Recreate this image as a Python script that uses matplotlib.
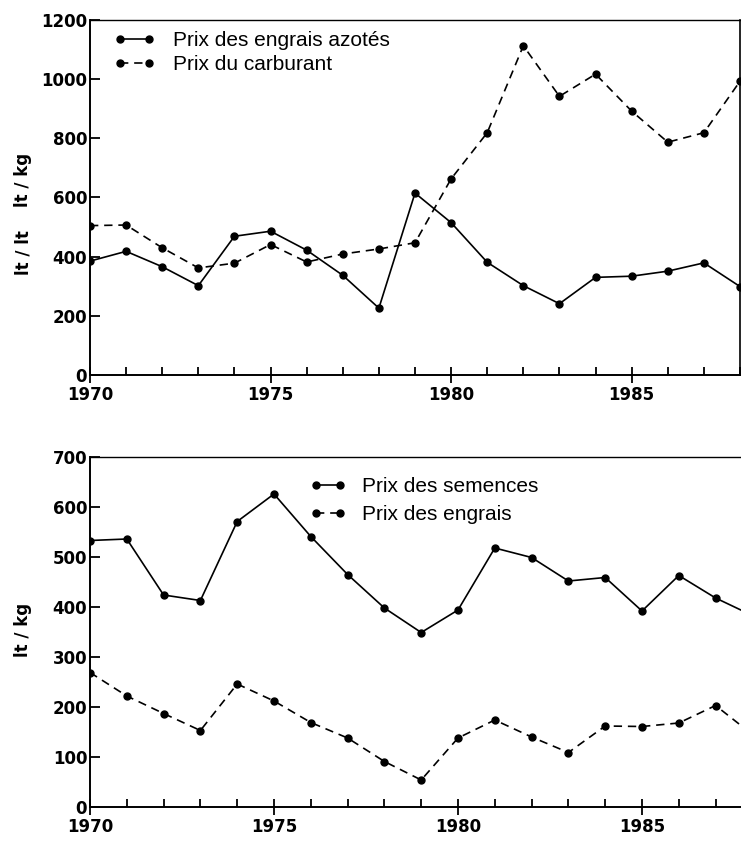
import matplotlib
matplotlib.use("Agg")
import matplotlib.pyplot as plt
from matplotlib.ticker import MultipleLocator

years = list(range(1970, 1989))

# Top panel
engrais_azotes = [385, 418, 366, 302, 469, 486, 422, 337, 226, 615, 515, 381, 302, 241, 330, 334, 351, 379, 299]
carburant = [505, 507, 430, 362, 378, 441, 382, 409, 426, 447, 663, 819, 1113, 942, 1017, 892, 787, 819, 993]

# Bottom panel
semences = [533, 536, 424, 413, 571, 626, 541, 465, 398, 349, 394, 518, 499, 452, 459, 392, 463, 418, 383]
engrais = [269, 222, 187, 153, 246, 212, 169, 138, 91, 54, 138, 174, 140, 109, 162, 161, 168, 203, 145]

top_labels = ["Prix des engrais azotés", "Prix du carburant"]
bottom_labels = ["Prix des semences", "Prix des engrais"]
year_ticks = [1970, 1975, 1980, 1985]

W, H = 741, 841
fig = plt.figure(figsize=(W / 100, H / 100), dpi=100)

tickfont = dict(family="DejaVu Sans", weight="bold", size=12)
legfont = dict(family="Liberation Sans", size=15)

line_kw = dict(color="black", lw=1.2, marker="o", markersize=5, clip_on=True)
dash = (0, (5, 3.5))


def style_axes(ax, ymax, ystep, xmax, right_spine):
    ax.set_xlim(1970, xmax)
    ax.set_ylim(0, ymax)
    ax.set_xticks(year_ticks)
    ax.xaxis.set_minor_locator(MultipleLocator(1))
    ax.yaxis.set_major_locator(MultipleLocator(ystep))
    ax.tick_params(axis="x", which="major", direction="inout", length=12, width=1.3, pad=2)
    ax.tick_params(axis="x", which="minor", direction="in", length=6, width=1.3)
    ax.tick_params(axis="y", which="major", direction="in", length=7, width=1.3, pad=2)
    for lab in ax.get_xticklabels() + ax.get_yticklabels():
        lab.set_fontfamily(tickfont["family"])
        lab.set_fontweight(tickfont["weight"])
        lab.set_fontsize(tickfont["size"])
    for s in ["left", "bottom", "top"]:
        ax.spines[s].set_linewidth(1.4)
    ax.spines["top"].set_linewidth(1.0)
    ax.spines["right"].set_visible(right_spine)
    ax.spines["right"].set_linewidth(1.2)


# ---- Top panel ----
ax1 = fig.add_axes([90 / W, 1 - 375 / H, 650 / W, 355 / H])
ax1.plot(years, engrais_azotes, linestyle="-", label=top_labels[0], **line_kw)
ax1.plot(years, carburant, linestyle=dash, label=top_labels[1], **line_kw)
style_axes(ax1, 1200, 200, 1988, True)
ax1.legend(loc="upper left", bbox_to_anchor=(0.036, 0.968), frameon=False,
           numpoints=2, handlelength=2.0, handletextpad=0.85, labelspacing=0.23,
           prop=legfont, borderaxespad=0, borderpad=0)

fig.text(23 / W, 1 - 180 / H, "lt / kg", rotation=90, ha="center", va="center",
         fontsize=12, fontweight="bold", family="DejaVu Sans")
fig.text(23 / W, 1 - 253 / H, "lt / lt", rotation=90, ha="center", va="center",
         fontsize=12, fontweight="bold", family="DejaVu Sans")

# ---- Bottom panel ----
ax2 = fig.add_axes([90 / W, 1 - 807 / H, 651 / W, 350 / H])
ax2.plot(years, semences, linestyle="-", label=bottom_labels[0], **line_kw)
ax2.plot(years, engrais, linestyle=dash, label=bottom_labels[1], **line_kw)
style_axes(ax2, 700, 100, 1970 + 651 / 36.8, False)
ax2.legend(loc="upper left", bbox_to_anchor=(0.338, 0.942), frameon=False,
           numpoints=2, handlelength=1.75, handletextpad=0.75, labelspacing=0.42,
           prop=legfont, borderaxespad=0, borderpad=0)

fig.text(23 / W, 1 - 630 / H, "lt / kg", rotation=90, ha="center", va="center",
         fontsize=12, fontweight="bold", family="DejaVu Sans")

fig.savefig("out.png", dpi=100)
